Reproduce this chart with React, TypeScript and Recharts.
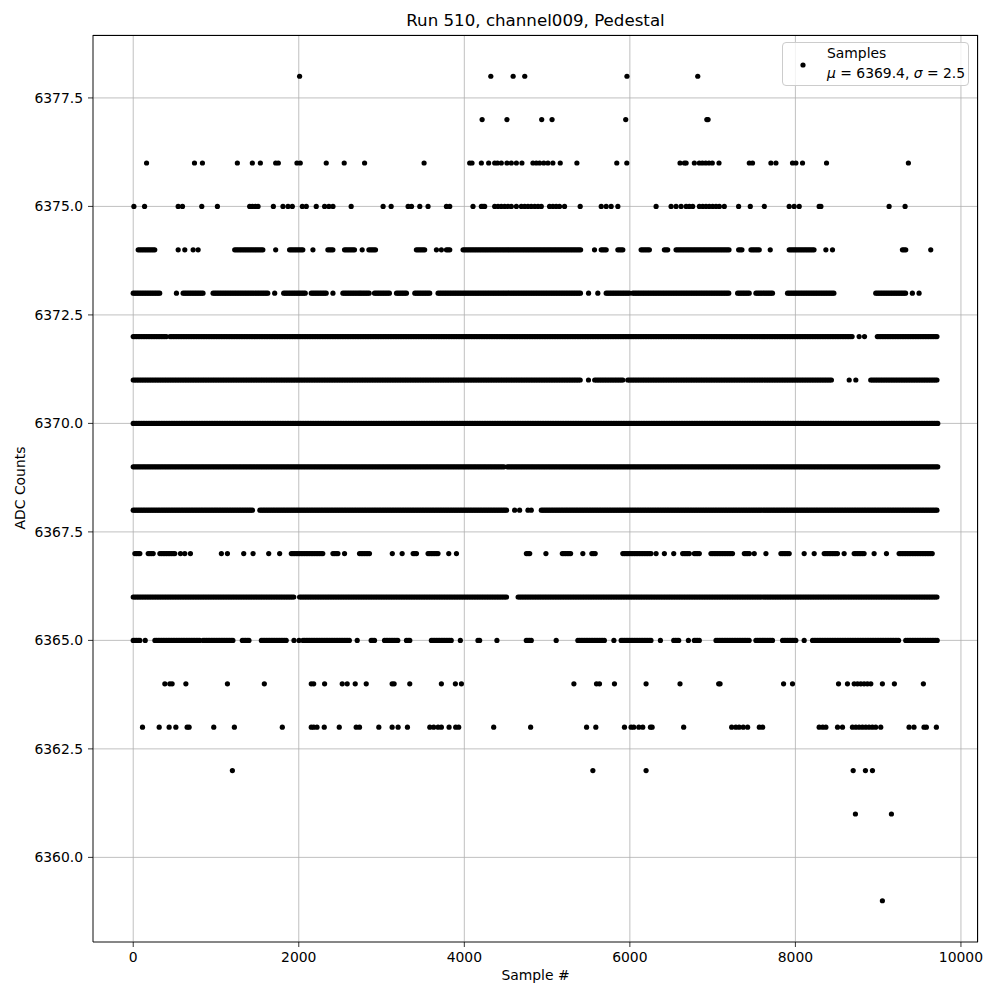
import { ScatterChart, Scatter, XAxis, YAxis, CartesianGrid } from "recharts";

const FONT = "DejaVu Sans";

// runs of samples: a number is one sample, [a, b] is a solid run of dots
type Run = number | [number, number];

const LEVELS = [6359, 6361, 6362, 6363, 6364, 6365, 6366, 6367, 6368, 6369, 6370, 6371, 6372, 6373, 6374, 6375, 6376, 6377, 6378];

const L6378: Run[] = [2010, 4320, 4590, 4730, 5965, 6820];
const L6377: Run[] = [4215, 4515, 4935, 5060, 5950, 6930, 6945];
const L6376: Run[] = [
  161, 740, 836, 1258, 1439, 1536, 1721, 1753, 1978, 2018, 2332, 2549, 2795, 3514, 4065, 4093, 4206, 4294, 4367,
  4400, 4447, 4515, 4568, 4629, 4696, 4829, 4870, 4910, 4960, 5010, 5070, 5159, 5360, 5842, 5963, 6606, 6659, 6680,
  6779, 6839, 6876, 6916, 6956, 6996, 7077, 7443, 7482, 7704, 7765, 7965, 8006, 8086, 8376, 9365,
];
const L6375: Run[] = [
  8, 137, 543, 595, 828, 1017, 1407, 1440, 1476, 1508, 1693, 1809, 1870, 1922, 2043, 2091, 2211, 2312, 2364, 2413,
  2633, 3019, 3116, 3321, 3362, 3462, 3562, 3784, 3824, 4105, 4206, 4226, 4246, 4367, 4407, 4447, 4487, 4527, 4568,
  4629, 4689, 4729, 4769, 4809, 4850, 4890, 4930, 5030, 5070, 5110, 5150, 5211, 5400, 5654, 5714, 5774, 5855, 6317,
  6498, 6558, 6619, 6680, 6719, 6759, 6840, 6880, 6920, 6960, 7000, 7041, 7081, 7141, 7314, 7455, 7624, 7925, 7985,
  8046, 8287, 8308, 9132, 9325,
];
const L6374: Run[] = [
  [60, 262], 543, 623, 724, 784, [1226, 1568], 1721, [1889, 2051], 2171, [2352, 2413], [2553, 2674], 2766,
  [2847, 2935], [3421, 3522], 3663, 3723, [3784, 3824], [3985, 5412], 5573, [5654, 5714], [5855, 5915],
  [6136, 6236], [6417, 6457], [6558, 7202], [7314, 7362], [7463, 7564], 7696, [7925, 8227], 8368, 8448,
  [9293, 9333], 9635,
];
const L6373: Run[] = [
  [0, 322], 522, [603, 844], [965, 1628], 1709, [1818, 2091], [2151, 2332], 2413, [2533, 2734], [2750, 2855],
  [2915, 3097], [3181, 3301], [3402, 3583], [3683, 5412], 5501, 5613, [5714, 5995], [6035, 7202], [7302, 7443],
  [7523, 7724], [7905, 8468], [8971, 9333], 9413, 9494,
];
const L6372: Run[] = [[0, 400], [445, 8690], 8770, 8835, [8990, 9725]];
const L6371: Run[] = [[0, 5410], 5500, [5575, 5915], [5975, 8450], 8650, 8730, [8910, 9725]];
const L6370: Run[] = [[0, 9725]];
const L6369: Run[] = [[0, 4490], [4520, 9725]];
const L6368: Run[] = [[0, 1450], [1530, 4520], 4608, 4668, 4769, 4809, [4930, 9725]];
const L6367: Run[] = [
  [20, 80], [181, 241], [322, 503], 571, 623, 691, 1065, 1138, 1335, 1448, 1637, 1769, [1910, 2292], [2413, 2473],
  2553, [2734, 2855], 3130, 3249, [3382, 3430], [3562, 3683], 3812, 3905, [4750, 4809], 4986, [5184, 5292], 5432,
  [5541, 5594], [5915, 6257], 6317, 6417, 6530, [6638, 6719], [6779, 6840], [6980, 7241], [7383, 7443], 7503,
  7644, [7825, 7925], 8106, 8227, [8348, 8509], 8589, [8710, 8830], 8951, 9100, [9253, 9655],
];
const L6366: Run[] = [[0, 1950], [2010, 4520], [4650, 9725]];
const L6365: Run[] = [
  [0, 80], 145, [262, 805], [844, 1206], [1318, 1407], [1548, 1850], 1942, 2003, [2051, 2614], 2706, [2875, 2915],
  [3036, 3200], [3301, 3354], [3602, 3844], 3952, [4165, 4198], 4394, [4749, 4809], 5110, [5372, 5694], 5807,
  [5895, 6257], 6369, [6530, 6598], [6707, 6719], [6779, 6840], [7041, 7443], [7523, 7724], [7845, 8006], 8106,
  [8207, 9253], [9333, 9725],
];
const L6364: Run[] = [
  382, 442, 470, 636, 1138, 1584, 2151, 2180, 2312, 2525, 2585, 2682, 2815, 3128, 3152, 3341, 3723, 3892, 3965,
  5324, 5597, 5633, 5814, 6196, 6606, 7073, 7090, 7857, 7965, 8521, 8629, 8710, 8750, 8790, 8830, 8870, 8911,
  9051, 9196, 9546,
];
const L6363: Run[] = [
  112, 314, 434, 515, 651, 675, 973, 1222, 1801, 2151, 2180, 2220, 2308, 2489, 2694, 2734, 2967, 3128, 3200, 3313,
  3583, 3630, 3683, 3723, 3816, 3896, 3932, 4355, 4801, 5477, 5589, 5935, 6015, 6047, 6108, 6156, 6249, 6269, 6650,
  7230, 7280, 7320, 7370, 7423, 7564, 7604, 8287, 8330, 8368, 8509, 8569, 8689, 8730, 8770, 8810, 8850, 8890,
  8930, 8970, 9031, 9373, 9433, 9554, 9582, 9703,
];
const L6362: Run[] = [1198, 5553, 6196, 8698, 8846, 8931];
const L6361: Run[] = [8725, 9160];
const L6359: Run[] = [9051];

const RUNS_BY_LEVEL: Run[][] = [
  L6359, L6361, L6362, L6363, L6364, L6365, L6366, L6367, L6368, L6369, L6370, L6371, L6372, L6373, L6374, L6375,
  L6376, L6377, L6378,
];

const X_TICKS = [0, 2000, 4000, 6000, 8000, 10000];
const Y_TICKS = [6360, 6362.5, 6365, 6367.5, 6370, 6372.5, 6375, 6377.5];
const X_DOMAIN = [-486, 10206];
const Y_DOMAIN = [6358.05, 6378.95];

// spacing of dots inside a solid run
const RUN_STEP = 20;

const buildPoints = () => {
  const pts: { x: number; y: number }[] = [];
  LEVELS.forEach((level, i) => {
    for (const r of RUNS_BY_LEVEL[i]) {
      if (typeof r === "number") {
        pts.push({ x: r, y: level });
      } else {
        for (let x = r[0]; x <= r[1]; x += RUN_STEP) pts.push({ x, y: level });
      }
    }
  });
  return pts;
};

const POINTS = buildPoints();

const Dot = (p: any) => <circle cx={p.cx} cy={p.cy} r={2.6} fill="#000" />;

const tickStyle = { fontFamily: FONT, fontSize: 13.9, fill: "#000" };

export default function App() {
  return (
    <div style={{ position: "absolute", left: 0, top: 0, width: 1000, height: 1000, background: "#fff", fontFamily: FONT }}>
      <div
        style={{
          position: "absolute",
          left: 93,
          width: 885,
          top: 13,
          textAlign: "center",
          fontSize: 16.67,
          lineHeight: 1,
          color: "#000",
        }}
      >
        Run 510, channel009, Pedestal
      </div>
      <div
        style={{
          position: "absolute",
          left: 21,
          top: 488,
          transform: "translate(-50%, -50%) rotate(-90deg)",
          fontSize: 13.9,
          lineHeight: 1,
          whiteSpace: "nowrap",
          color: "#000",
        }}
      >
        ADC Counts
      </div>
      <div
        style={{
          position: "absolute",
          left: 93,
          width: 885,
          top: 969,
          textAlign: "center",
          fontSize: 13.9,
          lineHeight: 1,
          color: "#000",
        }}
      >
        Sample #
      </div>

      <ScatterChart width={1000} height={1000} margin={{ top: 35, right: 22, left: 0, bottom: 0 }}>
        <CartesianGrid stroke="#b0b0b0" strokeWidth={0.8} />
        <XAxis
          type="number"
          dataKey="x"
          domain={X_DOMAIN}
          ticks={X_TICKS}
          allowDataOverflow
          height={58}
          tickSize={5}
          tickMargin={5}
          axisLine={{ stroke: "#000", strokeWidth: 0.8 }}
          tickLine={{ stroke: "#000", strokeWidth: 0.8 }}
          tick={tickStyle}
        />
        <YAxis
          type="number"
          dataKey="y"
          domain={Y_DOMAIN}
          ticks={Y_TICKS}
          allowDataOverflow
          width={93}
          tickSize={5}
          tickMargin={5}
          tickFormatter={(v: number) => v.toFixed(1)}
          axisLine={{ stroke: "#000", strokeWidth: 0.8 }}
          tickLine={{ stroke: "#000", strokeWidth: 0.8 }}
          tick={tickStyle}
        />
        <Scatter data={POINTS} shape={Dot} isAnimationActive={false} />
      </ScatterChart>

      {/* top and right spines */}
      <div
        style={{
          position: "absolute",
          left: 93,
          top: 35,
          width: 885,
          height: 907,
          borderTop: "1px solid #000",
          borderRight: "1px solid #000",
          boxSizing: "border-box",
          pointerEvents: "none",
        }}
      />

      {/* legend */}
      <div
        style={{
          position: "absolute",
          left: 782,
          top: 42,
          width: 187,
          height: 44,
          border: "1px solid #cccccc",
          borderRadius: 4,
          background: "rgba(255,255,255,0.8)",
          boxSizing: "border-box",
          fontSize: 13.9,
          color: "#000",
        }}
      >
        <svg width={10} height={10} style={{ position: "absolute", left: 15, top: 17 }}>
          <circle cx={5} cy={5} r={2.6} fill="#000" />
        </svg>
        <div style={{ position: "absolute", left: 44, top: 4, lineHeight: 1, whiteSpace: "nowrap" }}>Samples</div>
        <div style={{ position: "absolute", left: 44, top: 24, lineHeight: 1, whiteSpace: "nowrap" }}>
          <i>μ</i> = 6369.4, <i>σ</i> = 2.5
        </div>
      </div>
    </div>
  );
}
